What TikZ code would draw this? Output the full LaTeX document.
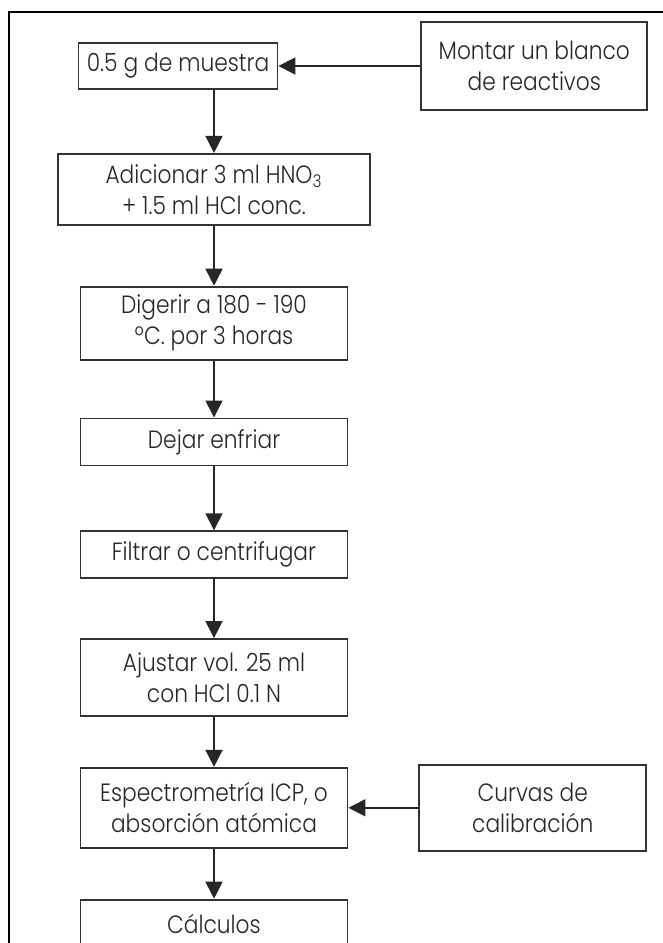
\documentclass[tikz,border=0pt]{standalone}
\usepackage{fontspec}
\setmainfont{Poppins Light}[FakeStretch=0.87]
\usetikzlibrary{positioning,arrows.meta}
\tikzset{
  stepbox/.style={draw=black!80, line width=0.9pt, align=center, inner sep=2pt,
    font=\fontsize{12.5}{15.5}\selectfont, text=black!85},
  arr/.style={-{Triangle[length=8.5pt,width=8.5pt]}, line width=0.8pt, draw=black!85},
}

\begin{document}
\begin{tikzpicture}
  \useasboundingbox (0,0) rectangle (331.5pt,-471.5pt);
  % Frame
  \coordinate (fr) at (4.5pt,-471.5pt);
  \coordinate (fc) at (331.5pt,-6pt);
  \draw[line width=1.4pt] (fr) |- (fc);

  % Define nodes
  \node[stepbox, minimum width=99.5pt, minimum height=23pt] (M) at (89pt,-33pt) {0.5 g de muestra};
  \node[stepbox, minimum width=113pt, minimum height=44pt, right=71pt of M] (B) {Montar un blanco\\de reactivos};
  \node[stepbox, minimum width=156pt, minimum height=35.5pt, below=31.5pt of M, xshift=18pt] (Ad) {Adicionar 3 ml HNO\textsubscript{3}\\+ 1.5 ml HCl conc.};
  \node[stepbox, minimum width=133.5pt, minimum height=36.5pt, below=30pt of Ad] (Dg) {Digerir a 180 - 190\\ºC. por 3 horas};
  \node[stepbox, minimum width=133.5pt, minimum height=23.5pt, below=28.5pt of Dg] (E) {Dejar enfriar};
  \node[stepbox, minimum width=133.5pt, minimum height=23.5pt, below=32pt of E] (Fi) {Filtrar o centrifugar};
  \node[stepbox, minimum width=133.5pt, minimum height=38.5pt, below=29.5pt of Fi] (Aj) {Ajustar vol. 25 ml\\con HCl 0.1 N};
  \node[stepbox, minimum width=133.5pt, minimum height=40pt, below=25pt of Aj] (Sp) {Espectrometría ICP, o\\absorción atómica};
  \node[stepbox, minimum width=113.5pt, minimum height=43pt, right=35pt of Sp] (Cv) {Curvas de\\calibración};
  \node[stepbox, minimum width=133.5pt, minimum height=24pt, below=25pt of Sp] (Ca) {Cálculos};

  % Connect the nodes
  \draw[arr] (B) -- (M);
  \draw[arr] (M.south -| Ad.north) -- (Ad.north);
  \foreach \a/\b in {Ad/Dg, Dg/E, E/Fi, Fi/Aj, Aj/Sp, Sp/Ca}
    \draw[arr] (\a.south) -- (\b.north);
  \draw[arr] (Cv) -- (Sp);
\end{tikzpicture}
\end{document}
